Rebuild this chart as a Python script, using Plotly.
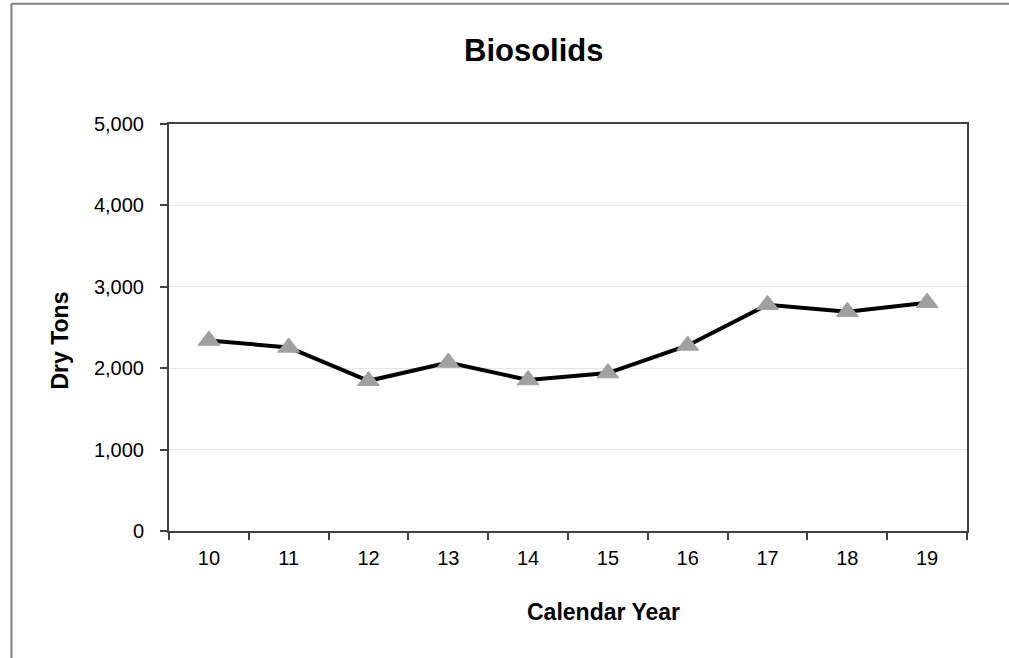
import plotly.graph_objects as go

# Annual biosolids production, dry tons, by calendar year (two-digit)
years = ["10", "11", "12", "13", "14", "15", "16", "17", "18", "19"]
dry_tons = [2340, 2255, 1845, 2070, 1855, 1940, 2280, 2780, 2695, 2805]
y_ticks = [0, 1000, 2000, 3000, 4000, 5000]
y_tick_text = ["0", "1,000", "2,000", "3,000", "4,000", "5,000"]

FONT = "Liberation Sans, Arial, sans-serif"

fig = go.Figure()
fig.add_trace(go.Scatter(
    x=years,
    y=dry_tons,
    mode="lines+markers",
    line=dict(color="#000000", width=4),
    marker=dict(symbol="triangle-up", size=19, color="#a0a0a0",
                line=dict(color="#a0a0a0", width=1)),
    showlegend=False,
))

fig.update_layout(
    width=1009,
    height=658,
    margin=dict(l=169, r=42, t=124, b=127),
    paper_bgcolor="white",
    plot_bgcolor="white",
    font=dict(family=FONT, size=20, color="#000000"),
    xaxis=dict(
        type="category",
        range=[-0.5, len(years) - 0.5],
        tickson="boundaries",
        ticks="outside",
        ticklen=7,
        tickcolor="#404040",
        tickwidth=1.5,
        showline=True,
        linecolor="#404040",
        linewidth=2,
        mirror=True,
        showgrid=False,
        ticklabelstandoff=8,
        tickfont=dict(size=20),
    ),
    yaxis=dict(
        range=[0, 5000],
        tickvals=y_ticks,
        ticktext=y_tick_text,
        ticks="outside",
        ticklen=7,
        tickcolor="#404040",
        tickwidth=1.5,
        showline=True,
        linecolor="#404040",
        linewidth=2,
        mirror=True,
        showgrid=True,
        gridcolor="#e6e6e6",
        gridwidth=1,
        zeroline=False,
        ticklabelstandoff=12,
        tickfont=dict(size=20),
    ),
    annotations=[
        dict(text="<b>Biosolids</b>", xref="paper", yref="paper",
             x=0.457, y=1.180, showarrow=False, font=dict(size=31),
             xanchor="center", yanchor="middle"),
        dict(text="<b>Calendar Year</b>", xref="paper", yref="paper",
             x=0.544, y=-0.198, showarrow=False, font=dict(size=23),
             xanchor="center", yanchor="middle"),
        dict(text="<b>Dry Tons</b>", xref="paper", yref="paper",
             x=-0.1366, y=0.468, showarrow=False, font=dict(size=23),
             textangle=-90, xanchor="center", yanchor="middle"),
    ],
    shapes=[
        # outer chart frame (left and top edges)
        dict(type="line", xref="paper", yref="paper",
             x0=-0.1974, x1=-0.1974, y0=-0.4, y1=1.2957,
             line=dict(color="#808080", width=2)),
        dict(type="line", xref="paper", yref="paper",
             x0=-0.1974, x1=1.1, y0=1.2957, y1=1.2957,
             line=dict(color="#808080", width=2)),
    ],
)

fig.write_html("out.html")
